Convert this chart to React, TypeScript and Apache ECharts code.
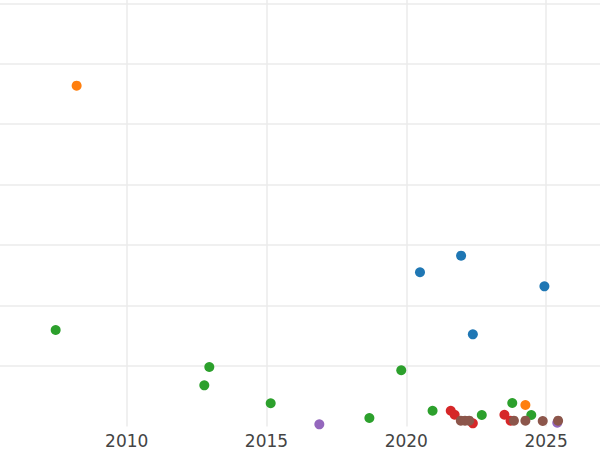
import React, { useEffect, useRef } from "react";
import * as echarts from "echarts";

// x: decimal year, y: value (arbitrary units, gridline every 1)
const blueX = [2020.49, 2021.96, 2024.94, 2022.38];
const blueY = [2.551, 2.826, 2.319, 1.525];

const orangeX = [2008.21, 2024.26];
const orangeY = [5.638, 0.356];

const greenX = [2007.46, 2012.955, 2012.776, 2015.15, 2018.68, 2019.82, 2020.94, 2022.7, 2023.79, 2024.47];
const greenY = [1.596, 0.984, 0.681, 0.384, 0.141, 0.93, 0.261, 0.19, 0.389, 0.19];

const redX = [2021.59, 2021.73, 2022.38, 2023.51, 2023.73];
const redY = [0.261, 0.195, 0.053, 0.195, 0.096];

const purpleX = [2016.89, 2025.4];
const purpleY = [0.036, 0.063];

const brownX = [2021.95, 2022.1, 2022.25, 2023.85, 2024.26, 2024.88, 2025.43];
const brownY = [0.096, 0.096, 0.096, 0.096, 0.096, 0.091, 0.096];

const xMin = 2005.469;
const xMax = 2026.928;
const yMin = 0;
const yMax = 7.055;

const groups = [
  { name: "blue", color: "#1f77b4", xs: blueX, ys: blueY },
  { name: "orange", color: "#ff7f0e", xs: orangeX, ys: orangeY },
  { name: "green", color: "#2ca02c", xs: greenX, ys: greenY },
  { name: "red", color: "#d62728", xs: redX, ys: redY },
  { name: "purple", color: "#9467bd", xs: purpleX, ys: purpleY },
  { name: "brown", color: "#8c564b", xs: brownX, ys: brownY },
];

export default function App() {
  const ref = useRef<HTMLDivElement>(null);
  useEffect(() => {
    if (!ref.current) return;
    const chart = echarts.init(ref.current, null, { renderer: "svg" });
    chart.setOption({
      animation: false,
      backgroundColor: "#ffffff",
      grid: { left: 0, right: 0, top: 0, bottom: 23.5, containLabel: false },
      xAxis: {
        type: "value",
        min: xMin,
        max: xMax,
        splitNumber: 4,
        axisLine: { show: false },
        axisTick: { show: false },
        axisLabel: {
          show: true,
          showMinLabel: false,
          showMaxLabel: false,
          color: "#444444",
          fontSize: 17,
          fontFamily: "DejaVu Sans",
          margin: 6,
          formatter: (v: number) => String(Math.round(v)),
        },
        splitLine: {
          show: true,
          showMinLine: false,
          showMaxLine: false,
          lineStyle: { color: "#ebebeb", width: 1.5 },
        },
      },
      yAxis: {
        type: "value",
        min: yMin,
        max: yMax,
        interval: 1,
        axisLine: { show: false },
        axisTick: { show: false },
        axisLabel: { show: false },
        splitLine: {
          show: true,
          showMinLine: false,
          showMaxLine: false,
          lineStyle: { color: "#ebebeb", width: 1.5 },
        },
      },
      series: groups.map((g) => ({
        type: "scatter",
        name: g.name,
        clip: true,
        symbolSize: 10,
        itemStyle: { color: g.color, opacity: 1 },
        data: g.xs.map((x, i) => [x, g.ys[i]]),
      })),
    });
    return () => chart.dispose();
  }, []);
  return (
    <div
      ref={ref}
      style={{ position: "fixed", left: 0, top: 0, width: 600, height: 450 }}
    />
  );
}
